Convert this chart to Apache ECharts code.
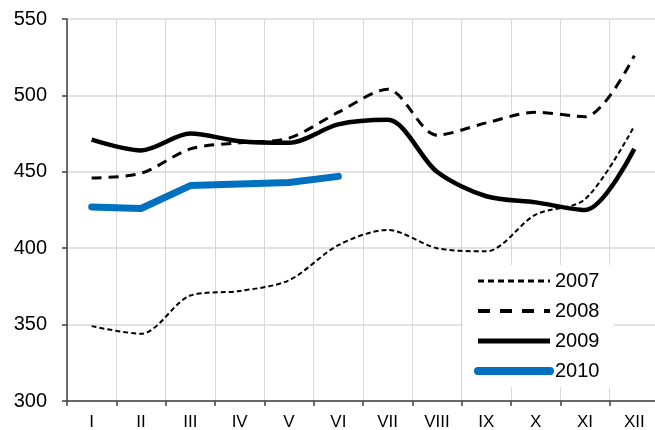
<!DOCTYPE html>
<html>
<head>
<meta charset="utf-8">
<script src="https://cdn.jsdelivr.net/npm/echarts@6/dist/echarts.min.js"></script>
<style>
  html, body { margin: 0; padding: 0; background: #fff; }
  #chart { width: 655px; height: 430px; }
</style>
</head>
<body>
<div id="chart"></div>
<script>
const categories = ['I', 'II', 'III', 'IV', 'V', 'VI', 'VII', 'VIII', 'IX', 'X', 'XI', 'XII'];
const yTicks = [300, 350, 400, 450, 500, 550];
const s2007 = [349, 344, 369, 372, 379, 402, 412, 400, 398, 422, 432, 480];
const s2008 = [446, 449, 465, 469, 472, 489, 504, 474, 482, 489, 486, 526];
const s2009 = [471, 464, 475, 470, 469, 481, 484, 450, 434, 430, 425, 465];
const s2010 = [427, 426, 441, 442, 443, 447];

const FONT = '"Liberation Sans", Arial, sans-serif';
const chart = echarts.init(document.getElementById('chart'), null, { renderer: 'canvas' });

const styles = {
  '2007': { color: '#000', width: 2, type: [5, 3], smooth: 0.3 },
  '2008': { color: '#000', width: 3, type: [10, 7], smooth: 0.3 },
  '2009': { color: '#000', width: 4.5, type: 'solid', smooth: 0.3 },
  '2010': { color: '#0070C0', width: 7, type: 'solid', smooth: false }
};
const legendStyles = {
  '2007': { width: 3, type: [6, 4] },
  '2008': { width: 4, type: [12, 10] },
  '2009': { width: 5, type: 'solid' },
  '2010': { width: 8, type: 'solid' }
};
const seriesData = { '2007': s2007, '2008': s2008, '2009': s2009, '2010': s2010 };
const names = ['2007', '2008', '2009', '2010'];

chart.setOption({
  animation: false,
  backgroundColor: '#fff',
  grid: { left: 67, top: 19, width: 592, height: 382, containLabel: false, outerBoundsMode: 'none' },
  legend: {
    orient: 'vertical',
    left: 463,
    top: 265,
    backgroundColor: '#fff',
    padding: [6, 14, 6, 11],
    itemWidth: 72,
    itemHeight: 16,
    itemGap: 10,
    textStyle: { fontFamily: FONT, fontSize: 20, color: '#000' },
    data: names.map(n => ({
      name: n,
      lineStyle: { color: styles[n].color, width: legendStyles[n].width, type: legendStyles[n].type, cap: n === '2010' ? 'round' : 'butt', opacity: 1 },
      itemStyle: { color: 'rgba(0,0,0,0)', borderColor: 'rgba(0,0,0,0)', borderWidth: 0, opacity: 0 }
    }))
  },
  xAxis: {
    type: 'category',
    data: categories,
    boundaryGap: true,
    axisLine: { show: true, lineStyle: { color: '#404040', width: 1.5 } },
    axisTick: { show: true, length: 5, lineStyle: { color: '#404040', width: 1.5 } },
    axisLabel: { fontFamily: FONT, fontSize: 17, color: '#000', margin: 13 },
    splitLine: { show: true, lineStyle: { color: '#d9d9d9', width: 1 } }
  },
  yAxis: {
    type: 'value',
    min: yTicks[0],
    max: yTicks[yTicks.length - 1],
    interval: 50,
    axisLine: { show: true, lineStyle: { color: '#404040', width: 1.5 } },
    axisTick: { show: true, length: 5, lineStyle: { color: '#404040', width: 1.5 } },
    axisLabel: { fontFamily: FONT, fontSize: 20, color: '#000', margin: 20 },
    splitLine: { show: true, lineStyle: { color: '#d9d9d9', width: 1.5 } }
  },
  series: names.map((n, i) => ({
    name: n,
    type: 'line',
    data: seriesData[n],
    smooth: styles[n].smooth,
    symbol: 'none',
    showSymbol: false,
    z: 2 + i,
    lineStyle: { color: styles[n].color, width: styles[n].width, type: styles[n].type, cap: n === '2010' ? 'round' : 'butt', join: 'round' },
    itemStyle: { color: styles[n].color }
  }))
});
</script>
</body>
</html>
